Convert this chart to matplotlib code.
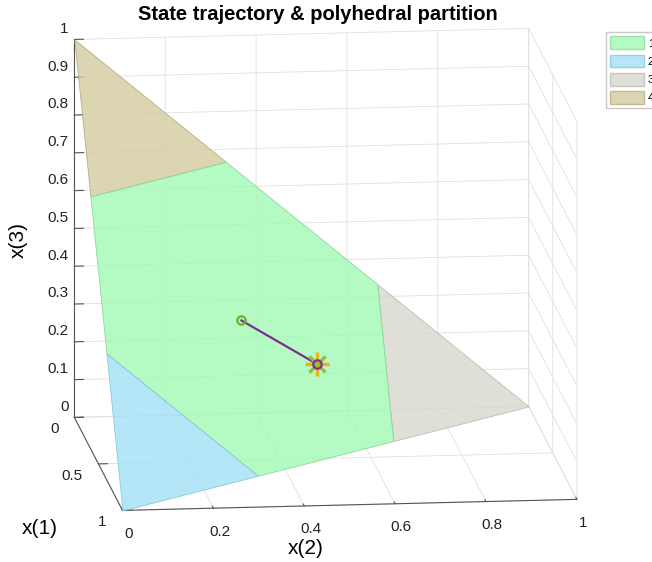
import numpy as np
import matplotlib
matplotlib.use("Agg")
import matplotlib.pyplot as plt
from mpl_toolkits.mplot3d.art3d import Poly3DCollection
from mpl_toolkits.mplot3d import proj3d
from matplotlib.patches import Patch
from matplotlib.ticker import NullFormatter

plt.rcParams['font.family'] = ['Liberation Sans', 'DejaVu Sans']

# ---- data ----
region_labels = ['1', '2', '3', '4']
region_1 = [(0, 1/3, 2/3), (0, 2/3, 1/3), (1/3, 2/3, 0), (2/3, 1/3, 0), (2/3, 0, 1/3), (1/3, 0, 2/3)]
region_2 = [(1, 0, 0), (2/3, 1/3, 0), (2/3, 0, 1/3)]
region_3 = [(0, 1, 0), (0, 2/3, 1/3), (1/3, 2/3, 0)]
region_4 = [(0, 0, 1), (0, 1/3, 2/3), (1/3, 0, 2/3)]
region_colors = ['#a2f9b4', '#a1e0f6', '#d8d8ce', '#d3cb9e']
region_edges = ['#8fd8a0', '#8ac8de', '#bdbdb0', '#b8ae80']

traj_x1 = [0.338, 0.298]
traj_x2 = [0.332, 0.5015]
traj_x3 = [0.330, 0.2005]

x1_ticks = [0, 0.5, 1]
x2_ticks = [0, 0.2, 0.4, 0.6, 0.8, 1]
x3_ticks = [0, 0.1, 0.2, 0.3, 0.4, 0.5, 0.6, 0.7, 0.8, 0.9, 1]

# ---- figure ----
fig = plt.figure(figsize=(6.52, 5.62), dpi=100)
ax = fig.add_axes([-8 / 652, 4 / 562, 1.0, 1.0], projection='3d', proj_type='ortho')
ax.set_box_aspect((432, 457, 387), zoom=1.276)
ax.view_init(elev=12.5, azim=-6.4)

regions = [region_1, region_2, region_3, region_4]
for verts, fc, ec in zip(regions, region_colors, region_edges):
    pc = Poly3DCollection([verts], facecolors=fc, edgecolors=ec, linewidths=0.6, alpha=0.8)
    ax.add_collection3d(pc)

ax.plot(traj_x1, traj_x2, traj_x3, color='#7E2F8E', lw=1.6, zorder=10)
ax.plot([traj_x1[0]], [traj_x2[0]], [traj_x3[0]], 'o', mfc='none', mec='#77AC30', mew=1.6, ms=6, zorder=11)
ax.plot([traj_x1[-1]], [traj_x2[-1]], [traj_x3[-1]], '+', color='#EDB120', mew=2.4, ms=17, zorder=11)
ax.plot([traj_x1[-1]], [traj_x2[-1]], [traj_x3[-1]], 'x', color='#9ABD2A', mew=2.4, ms=12, zorder=12)
ax.plot([traj_x1[-1]], [traj_x2[-1]], [traj_x3[-1]], 'o', mfc='none', mec='#7E2F8E', mew=1.6, ms=6, zorder=13)

ax.set_xlim(0, 1)
ax.set_ylim(0, 1)
ax.set_zlim(0, 1)
ax.set_xticks(x1_ticks)
ax.set_yticks(x2_ticks)
ax.set_zticks(x3_ticks)
for a in (ax.xaxis, ax.yaxis, ax.zaxis):
    a.set_major_formatter(NullFormatter())
    a.set_tick_params(labelbottom=False)
    a.set_pane_color((1, 1, 1, 0))
    a._axinfo['grid']['color'] = (0.88, 0.88, 0.88, 1)
    a._axinfo['grid']['linewidth'] = 0.6
    a._axinfo['tick']['inward_factor'] = 0.0
    a._axinfo['tick']['outward_factor'] = 0.25
    a.line.set_color('#555555')
    a.line.set_linewidth(0.8)
ax.zaxis.set_ticks_position('lower')
ax.tick_params(colors='#555555')

fig.text(318 / 652, 1 - 15 / 562, 'State trajectory & polyhedral partition', fontsize=14.5,
         fontweight='bold', ha='center', va='center')
fig.text(40 / 652, 1 - 528 / 562, 'x(1)', fontsize=15, ha='center', va='center')
fig.text(306 / 652, 1 - 548 / 562, 'x(2)', fontsize=15, ha='center', va='center')
fig.text(18 / 652, 1 - 240 / 562, 'x(3)', fontsize=15, ha='center', va='center', rotation=90)

handles = [Patch(facecolor=fc, edgecolor=ec, alpha=0.8) for fc, ec in zip(region_colors, region_edges)]
fig.legend(handles, region_labels, loc='upper left', bbox_to_anchor=(606 / 652, 1 - 32 / 562), fontsize=8,
           frameon=True, fancybox=False, edgecolor='#bbbbbb', handlelength=3.0, handleheight=1.4,
           labelspacing=0.48, borderpad=0.4, handletextpad=0.35, borderaxespad=0)

# tick labels placed through the 3D projection of the axes (after a first draw)
fig.canvas.draw()
tick_color = '#222222'
tick_fs = 11


def place(x, y, z, s, **kw):
    px, py, _ = proj3d.proj_transform(x, y, z, ax.M)
    fx, fy = fig.transFigure.inverted().transform(ax.transData.transform((px, py)))
    fig.text(fx, fy, s, fontsize=tick_fs, color=tick_color, **kw)


for t in x1_ticks:
    place(t, -0.035, -0.03, f'{t:g}', ha='right', va='center')
for t in x2_ticks:
    place(1.13, t, -0.03, f'{t:g}', ha='center', va='center')
for t in x3_ticks:
    place(-0.115, 0, t, f'{t:g}', ha='right', va='center')

fig.savefig('out.png', dpi=100)
